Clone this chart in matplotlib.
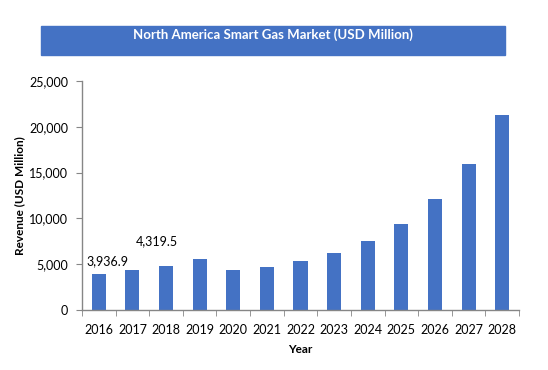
import numpy as np
import matplotlib.pyplot as plt
from matplotlib.patches import Rectangle
from matplotlib.ticker import FuncFormatter

plt.rcParams['font.family'] = ['Lato', 'DejaVu Sans']

years = ['2016', '2017', '2018', '2019', '2020', '2021', '2022',
         '2023', '2024', '2025', '2026', '2027', '2028']
revenue = [3936.9, 4319.5, 4840, 5570, 4400, 4730, 5350,
           6220, 7530, 9390, 12120, 15940, 21290]
annot_years = ['2016', '2017']
annot_text = ['3,936.9', '4,319.5']

blue = '#4472C4'
gray = '#868686'

fig = plt.figure(figsize=(5.48, 3.70), dpi=100)
ax = fig.add_axes([82 / 548, 1 - 310 / 370, 437 / 548, 229 / 370])

x = np.arange(len(years))
ax.bar(x, revenue, width=0.42, color=blue)

ax.set_xlim(-0.5, len(years) - 0.5)
ax.set_ylim(0, 25000)
ax.set_yticks(np.arange(0, 25001, 5000))
ax.yaxis.set_major_formatter(FuncFormatter(lambda v, p: f'{int(v):,}'))
ax.set_xticks(x)
ax.set_xticklabels(years)
ax.set_xticks(np.arange(-0.5, len(years)), minor=True)
ax.tick_params(axis='x', which='major', length=0, pad=10, labelsize=9)
ax.tick_params(axis='x', which='minor', length=4, color=gray, direction='out')
ax.tick_params(axis='y', length=4, color=gray, labelsize=9, pad=6)

for s in ['top', 'right']:
    ax.spines[s].set_visible(False)
for s in ['left', 'bottom']:
    ax.spines[s].set_color(gray)
    ax.spines[s].set_linewidth(1.0)

# data labels for the first two years
ax.text(years.index(annot_years[0]) + 0.25, revenue[0] + 1400, annot_text[0],
        ha='center', va='center', fontsize=9)
ax.text(years.index(annot_years[1]) + 0.73, revenue[1] + 3200, annot_text[1],
        ha='center', va='center', fontsize=9)

ax.set_xlabel('Year', fontsize=8.5, fontweight='bold', labelpad=6)
ax.set_ylabel('Revenue (USD Million)', fontsize=8.5, fontweight='bold', labelpad=3)

# title banner
fig.patches.append(Rectangle((41 / 548, 1 - 55 / 370), 464 / 548, 29 / 370,
                             transform=fig.transFigure, color=blue, zorder=0))
fig.text(273 / 548, 1 - 35 / 370, 'North America Smart Gas Market (USD Million)',
         ha='center', va='center', color='white', fontsize=9.5, fontweight='bold')

fig.savefig('out.png', dpi=100)
